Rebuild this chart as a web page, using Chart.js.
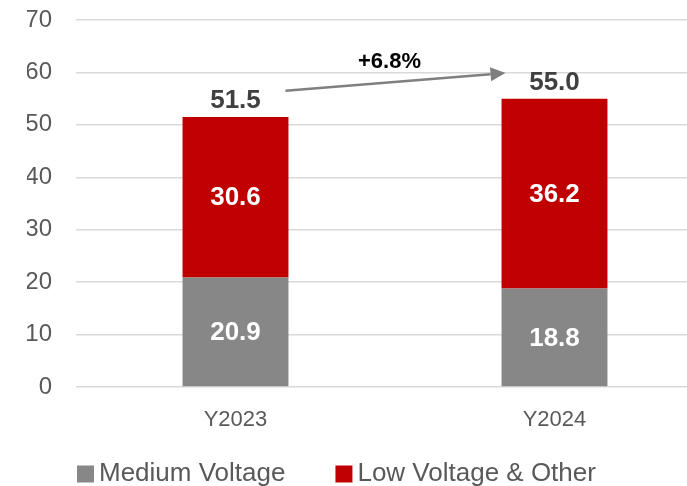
<!DOCTYPE html>
<html>
<head>
<meta charset="utf-8">
<script src="https://cdn.jsdelivr.net/npm/chart.js@4.4.1/dist/chart.umd.min.js"></script>
<style>
  html, body { margin: 0; padding: 0; background: #fff; overflow: hidden; }
  #wrap { width: 714px; height: 486px; }
</style>
</head>
<body>
<div id="wrap"><canvas id="salesChart" width="714" height="486"></canvas></div>
<script>
// chart data
var categories = ['Y2023', 'Y2024'];
var mediumVoltage = [20.9, 18.8];
var lowVoltage = [30.6, 36.2];
var totals = [51.5, 55.0];
var growthLabel = '+6.8%';
var yMin = 0, yMax = 70, yStep = 10;

var FONT = '"Liberation Sans", Arial, sans-serif';
Chart.defaults.font.family = FONT;

// value labels, totals, growth arrow and the legend row
var barLabels = {
    id: 'barLabels',
    afterDatasetsDraw: function (chart) {
        var ctx = chart.ctx;
        var xs = chart.scales.x, ys = chart.scales.y;
        ctx.save();
        ctx.textAlign = 'center';
        ctx.textBaseline = 'middle';
        ctx.font = 'bold 26px ' + FONT;
        ctx.fillStyle = '#ffffff';
        chart.data.datasets.forEach(function (ds, i) {
            chart.getDatasetMeta(i).data.forEach(function (bar, j) {
                ctx.fillText(ds.data[j].toFixed(1), bar.x, (bar.y + bar.base) / 2 + 1);
            });
        });

        ctx.fillStyle = '#404040';
        totals.forEach(function (t, j) {
            ctx.fillText(t.toFixed(1), xs.getPixelForValue(j), ys.getPixelForValue(t) - 16);
        });

        // arrow between the two totals
        var x0 = xs.getPixelForValue(0) + 50, y0 = ys.getPixelForValue(56.5);
        var x1 = xs.getPixelForValue(1) - 49, y1 = ys.getPixelForValue(59.9);
        var a = Math.atan2(y1 - y0, x1 - x0);
        var head = 15, half = 7;
        var bx = x1 - head * Math.cos(a), by = y1 - head * Math.sin(a);
        ctx.strokeStyle = '#7f7f7f';
        ctx.fillStyle = '#7f7f7f';
        ctx.lineWidth = 2.5;
        ctx.beginPath();
        ctx.moveTo(x0, y0);
        ctx.lineTo(bx, by);
        ctx.stroke();
        ctx.beginPath();
        ctx.moveTo(x1, y1);
        ctx.lineTo(bx + half * Math.sin(a), by - half * Math.cos(a));
        ctx.lineTo(bx - half * Math.sin(a), by + half * Math.cos(a));
        ctx.closePath();
        ctx.fill();

        ctx.fillStyle = '#000000';
        ctx.font = 'bold 22px ' + FONT;
        ctx.fillText(growthLabel, (x0 + x1) / 2 - 6, (y0 + y1) / 2 - 20);

        // legend
        ctx.font = '26px ' + FONT;
        ctx.textAlign = 'left';
        var lx = 77, ly = 474, box = 17;
        chart.data.datasets.forEach(function (ds) {
            ctx.fillStyle = ds.backgroundColor;
            ctx.fillRect(lx, ly - box / 2, box, box);
            ctx.fillStyle = '#595959';
            ctx.fillText(ds.label, lx + box + 5, ly);
            lx += box + 5 + ctx.measureText(ds.label).width + 50;
        });
        ctx.restore();
    }
};

var chart = new Chart(document.getElementById('salesChart').getContext('2d'), {
    type: 'bar',
    data: {
        labels: categories,
        datasets: [
            {
                label: 'Medium Voltage',
                data: mediumVoltage,
                backgroundColor: '#878787',
                categoryPercentage: 0.332,
                barPercentage: 1.0
            },
            {
                label: 'Low Voltage & Other',
                data: lowVoltage,
                backgroundColor: '#c00000',
                categoryPercentage: 0.332,
                barPercentage: 1.0
            }
        ]
    },
    options: {
        responsive: false,
        animation: false,
        layout: { padding: { top: 20, left: 27, right: 0, bottom: 47 } },
        plugins: {
            tooltip: { enabled: false },
            legend: { display: false }
        },
        scales: {
            x: {
                stacked: true,
                grid: { display: false },
                border: { display: false },
                ticks: { color: '#595959', font: { size: 22 }, padding: 12 },
                afterFit: function (scale) {
                    scale.height = 52;
                    scale.paddingTop = scale.paddingBottom = 0;
                    scale.paddingLeft = scale.paddingRight = 0;
                }
            },
            y: {
                stacked: true,
                min: yMin,
                max: yMax,
                border: { display: false },
                grid: { color: '#d9d9d9', lineWidth: 1.5, drawTicks: false },
                ticks: { stepSize: yStep, color: '#595959', font: { size: 24 }, padding: 24 },
                afterFit: function (scale) {
                    scale.width = 49;
                    scale.paddingTop = scale.paddingBottom = 0;
                }
            }
        }
    },
    plugins: [barLabels]
});
</script>
</body>
</html>
